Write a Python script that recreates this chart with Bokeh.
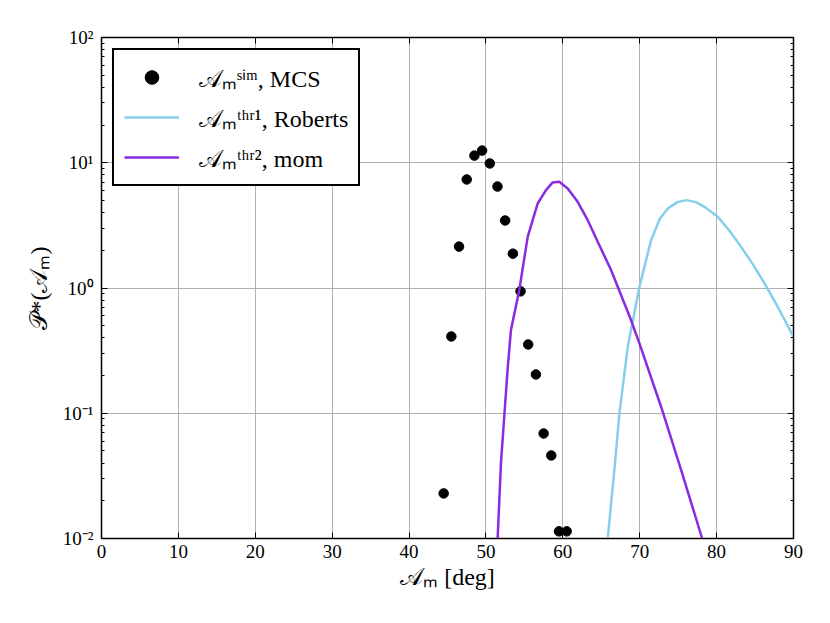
from bokeh.plotting import figure
from bokeh.models import LinearAxis, LogAxis, FixedTicker, Legend, LegendItem, Range1d, CustomJSTickFormatter
from bokeh.embed import file_html
from bokeh.resources import INLINE

# --- data ---
sim_x = [44.5, 45.5, 46.5, 47.5, 48.5, 49.5, 50.5, 51.5, 52.5, 53.5, 54.5, 55.5, 56.5, 57.5, 58.5, 59.5, 60.5]
sim_y = [0.0229, 0.41, 2.14, 7.35, 11.4, 12.5, 9.87, 6.46, 3.46, 1.88, 0.94, 0.354, 0.204, 0.0689, 0.046, 0.0114, 0.0114]

rob_x = [65.7, 65.84, 66.70, 67.36, 68.45, 69.96, 71.48, 72.6, 73.66, 74.9, 76.04, 77.3, 78.42, 80.16, 81.7, 83.19, 84.7, 86.23, 88.1, 90.0]
rob_y = [0.008, 0.01, 0.0352, 0.0998, 0.34, 1.02, 2.41, 3.55, 4.32, 4.85, 5.03, 4.85, 4.45, 3.70, 2.85, 2.13, 1.55, 1.09, 0.68, 0.408]

mom_x = [51.45, 51.52, 51.95, 52.38, 52.81, 53.25, 54.33, 55.43, 56.73, 57.81, 58.68, 59.54, 60.63, 61.93, 63.24, 64.54, 66.27, 68.88, 69.96, 72.78, 75.39, 78.12, 78.3]
mom_y = [0.008, 0.01, 0.0398, 0.0938, 0.221, 0.461, 0.96, 2.56, 4.73, 6.04, 6.97, 7.05, 6.24, 4.88, 3.48, 2.34, 1.39, 0.552, 0.361, 0.1127, 0.0352, 0.01, 0.0085]

x_ticks = [0, 10, 20, 30, 40, 50, 60, 70, 80, 90]
y_ticks = [0.01, 0.1, 1, 10, 100]
y_tick_labels = ["10\u207b\u00b2", "10\u207b\u00b9", "10\u2070", "10\u00b9", "10\u00b2"]
y_minor = [m * t for t in [0.01, 0.1, 1, 10] for m in range(2, 10)]

labels = ["\U0001D49C\u2098\u02e2\u2071\u1d50, MCS",
          "\U0001D49C\u2098\u1d57\u02b0\u02b3\u00b9, Roberts",
          "\U0001D49C\u2098\u1d57\u02b0\u02b3\u00b2, mom"]

FONT = "Liberation Serif"

p = figure(width=822, height=615, x_range=Range1d(0, 90), y_range=Range1d(0.01, 100),
           y_axis_type="log", output_backend="svg", toolbar_location=None,
           min_border_left=101, min_border_right=29, min_border_top=37, min_border_bottom=77)

p.outline_line_color = "black"
p.outline_line_width = 1.5

r_sim = p.scatter(sim_x, sim_y, size=9.5, color="black")
r_rob = p.line(rob_x, rob_y, line_color="#87CEEB", line_width=2.5)
r_mom = p.line(mom_x, mom_y, line_color="#8A2BE2", line_width=2.5)

p.xaxis.ticker = FixedTicker(ticks=x_ticks)
p.yaxis.ticker = FixedTicker(ticks=y_ticks, minor_ticks=y_minor)
p.yaxis.major_label_overrides = {t: l for t, l in zip(y_ticks, y_tick_labels)}

for ax in [p.xaxis[0], p.yaxis[0]]:
    ax.major_tick_in = 6
    ax.major_tick_out = 0
    ax.minor_tick_in = 3
    ax.minor_tick_out = 0
    ax.axis_line_color = "black"
    ax.major_label_text_font = FONT
    ax.major_label_text_font_size = "19px"
    ax.major_label_text_color = "black"
    ax.axis_label_text_font = FONT
    ax.axis_label_text_font_size = "24px"
    ax.axis_label_text_font_style = "normal"
    ax.axis_label_text_color = "black"
p.xaxis.minor_tick_line_color = None
p.xaxis.axis_label = "\U0001D49C\u2098 [deg]"
p.yaxis.axis_label = "\U0001D4AB*(\U0001D49C\u2098)"
p.xaxis.major_label_standoff = 6
p.xaxis.axis_label_standoff = 3
p.yaxis.major_label_standoff = 8
p.yaxis.axis_label_standoff = 8

top = LinearAxis(ticker=FixedTicker(ticks=x_ticks), formatter=CustomJSTickFormatter(code="return ''"),
                 major_tick_in=6, major_tick_out=0, minor_tick_line_color=None, axis_line_color="black")
right = LogAxis(ticker=FixedTicker(ticks=y_ticks, minor_ticks=y_minor), formatter=CustomJSTickFormatter(code="return ''"),
                major_tick_in=6, major_tick_out=0, minor_tick_in=3, minor_tick_out=0, axis_line_color="black")
p.add_layout(top, "above")
p.add_layout(right, "right")

p.grid.grid_line_color = "#a8a8a8"
p.grid.grid_line_width = 0.9
p.xgrid.ticker = FixedTicker(ticks=x_ticks)
p.ygrid.ticker = FixedTicker(ticks=y_ticks)

legend = Legend(items=[LegendItem(label=labels[0], renderers=[r_sim]),
                       LegendItem(label=labels[1], renderers=[r_rob]),
                       LegendItem(label=labels[2], renderers=[r_mom])],
                location="top_left", margin=11)
legend.border_line_color = "black"
legend.border_line_width = 2
legend.border_line_alpha = 1
legend.background_fill_alpha = 1
legend.label_text_font = FONT
legend.label_text_font_size = "24px"
legend.label_text_color = "black"
legend.glyph_width = 55
legend.glyph_height = 34
legend.label_height = 34
legend.spacing = 6
legend.padding = 10
legend.label_standoff = 20
p.add_layout(legend)

open("out.html", "w").write(file_html(p, INLINE))
